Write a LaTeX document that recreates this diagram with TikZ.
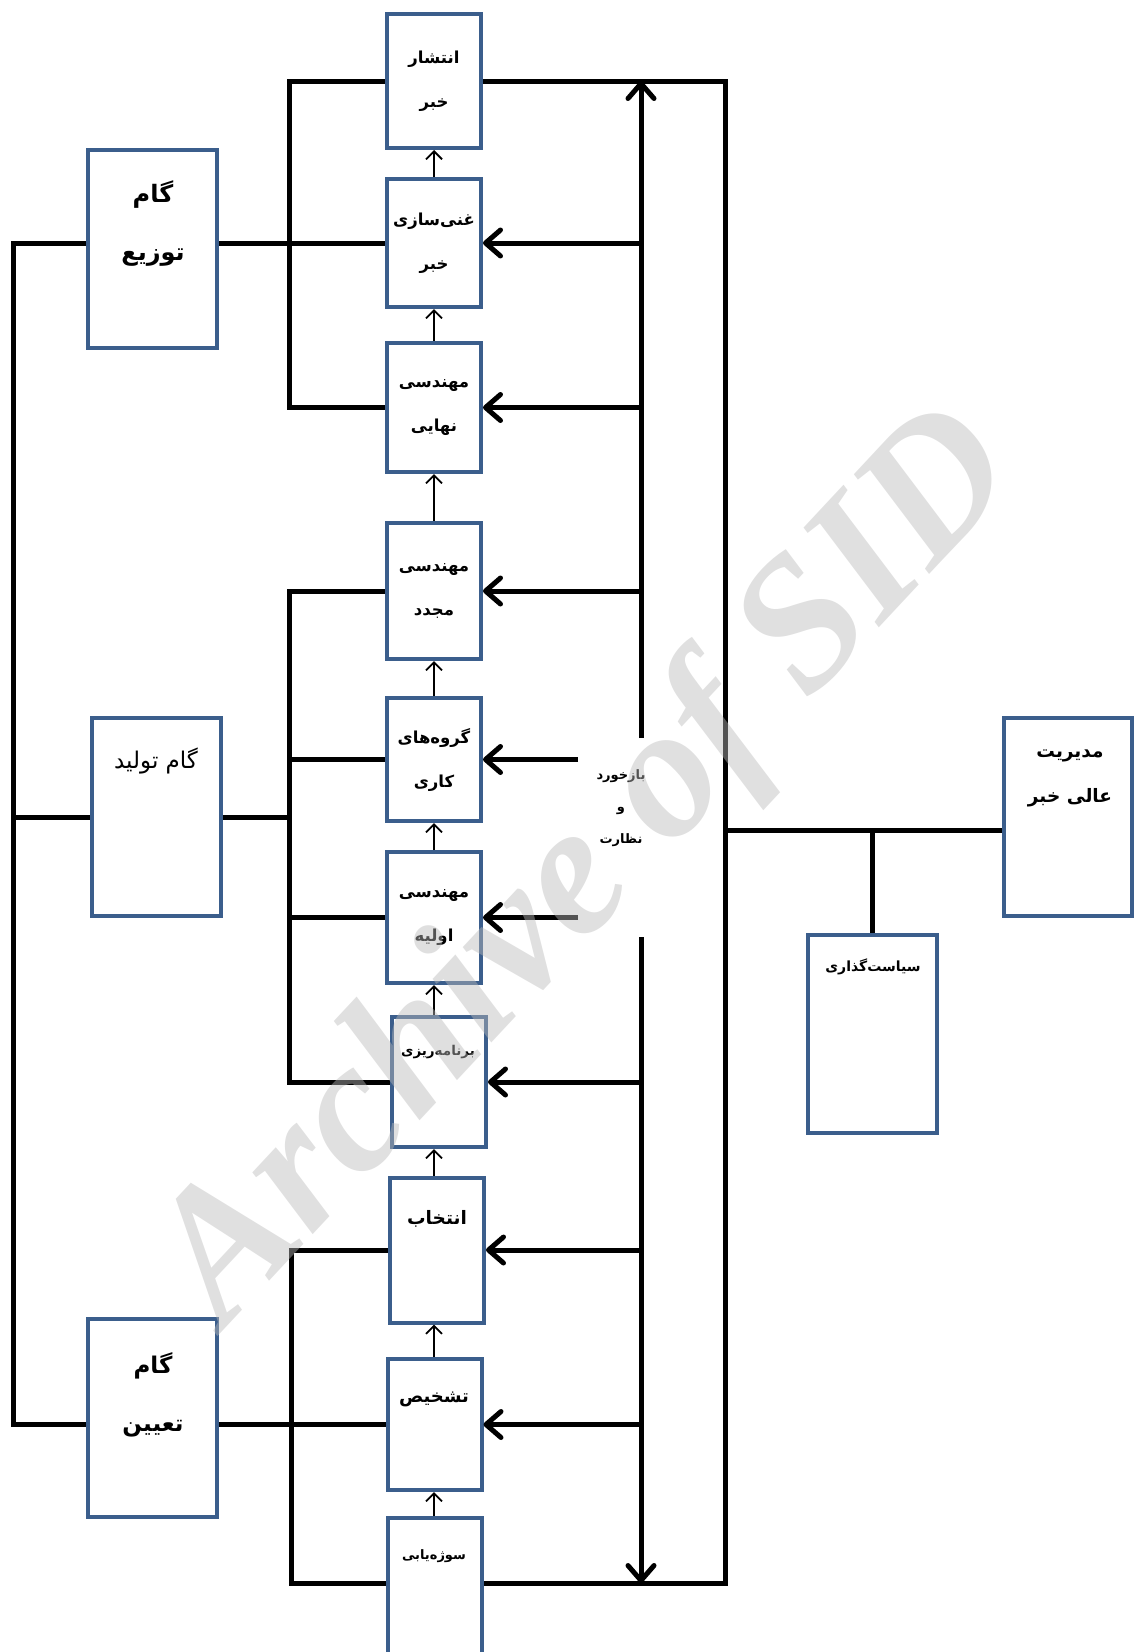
\documentclass[tikz,border=0pt]{standalone}
\usepackage{fontspec}
\usetikzlibrary{arrows.meta}
\TeXXeTstate=1
\newfontfamily\fa[Script=Arabic]{DejaVu Sans}
\newfontfamily\wmfont{Liberation Serif}
\definecolor{boxblue}{HTML}{3B5E8C}
\definecolor{wmgray}{gray}{0.73}
\newcommand{\rl}[1]{\beginR #1\endR}
\tikzset{
  box/.style={draw=boxblue, line width=4pt, fill=white, minimum width=94pt, inner sep=0pt, align=center, font=\fa\bfseries\fontsize{16.5}{44}\selectfont},
  stagebox/.style={box, minimum width=129pt, minimum height=198pt},
  lbl/.style={inner sep=0pt, align=center, font=\fa\bfseries\fontsize{13.5}{30}\selectfont},
  stagelbl/.style={lbl, font=\fa\bfseries\fontsize{24}{58}\selectfont},
  wire/.style={line width=5pt},
  fbarrow/.style={line width=5pt, -{Straight Barb[length=15pt,width=26pt,round]}},
  uparrow/.style={line width=1.8pt, -{Straight Barb[length=8pt,width=16pt]}},
}
\begin{document}
\begin{tikzpicture}[x=1pt, y=-1pt]
\useasboundingbox (0,0) rectangle (1134,1652);
% middle column
\node[box, minimum height=134pt] (b1) at (434,81) {\rl{انتشار}\\\rl{خبر}};
\node[box, minimum height=128pt] (b2) at (434,243) {\rl{غنی‌سازی}\\\rl{خبر}};
\node[box, minimum height=129pt] (b3) at (434,407.5) {\rl{مهندسی}\\\rl{نهایی}};
\node[box, minimum height=136pt] (b4) at (434,591) {\rl{مهندسی}\\\rl{مجدد}};
\node[box, minimum height=123pt] (b5) at (434,759.5) {\rl{گروه‌های}\\\rl{کاری}};
\node[box, minimum height=131pt] (b6) at (434,917.5) {\rl{مهندسی}\\\rl{اولیه}};
\node[box, minimum height=130pt] (b7) at (439,1082) {};
\node[box, minimum height=145pt] (b8) at (437,1250) {};
\node[box, minimum height=131pt] (b9) at (434.5,1424.5) {};
\node[box, minimum height=172pt] (b10) at (434.5,1604) {};
\node[lbl] (t7) at (438,1052) {\rl{برنامه‌ریزی}};
\node[lbl, font=\fa\bfseries\fontsize{18.5}{30}\selectfont] (t8) at (437,1219) {\rl{انتخاب}};
\node[lbl, font=\fa\bfseries\fontsize{18}{30}\selectfont] (t9) at (434,1399) {\rl{تشخیص}};
\node[lbl, font=\fa\bfseries\fontsize{13}{30}\selectfont] (t10) at (434,1556) {\rl{سوژه‌یابی}};
% stages
\node[stagebox] (dist) at (152.5,249) {};
\node[stagebox] (prod) at (156,817) {};
\node[stagebox] (det) at (152.5,1417.5) {};
\node[stagelbl] (tdist) at (153,224) {\rl{گام}\\\rl{توزیع}};
\node[lbl, font=\fa\fontsize{23}{30}\selectfont] (tprod) at (156,761) {\rl{گام تولید}};
\node[stagelbl, font=\fa\bfseries\fontsize{23}{58}\selectfont] (tdet) at (153,1395) {\rl{گام}\\\rl{تعیین}};
% management
\node[stagebox, minimum width=128pt] (mgmt) at (1068,817) {};
\node[stagebox] (policy) at (872.5,1034) {};
\node[lbl, font=\fa\bfseries\fontsize{18.5}{45}\selectfont] (tmgmt) at (1070,778.5) {\rl{مدیریت}\\\rl{عالی خبر}};
\node[lbl, font=\fa\bfseries\fontsize{14}{30}\selectfont] (tpolicy) at (873,967) {\rl{سیاست‌گذاری}};
\node[lbl, font=\fa\bfseries\fontsize{13}{32}\selectfont] (tfb) at (621,808) {\rl{بازخورد}\\\rl{و}\\\rl{نظارت}};
% helper coordinates
\coordinate (lbus) at (289,0);
\coordinate (far) at (13,0);
\coordinate (fb) at (641,0);
\coordinate (fbs) at (578,0);
\coordinate (gapt) at (641,738);
\coordinate (gapb) at (641,937);
\coordinate (lb) at (291,1583);
\coordinate (rb) at (725,1583);
\coordinate (mline) at (0,830);
% left brackets
\draw[wire] (b1.west) -| (b3.west -| lbus) -- (b3.west);
\draw[wire] (b2.west -| dist.east) -- (b2.west);
\draw[wire] (b4.west) -| (b7.west -| lbus) -- (b7.west);
\draw[wire] (b5.west) -- (b5.west -| lbus);
\draw[wire] (b6.west) -- (b6.west -| lbus);
\draw[wire] (prod.east) -- (prod.east -| lbus);
\draw[wire] (b8.west) -| (lb) -- (lb -| b10.west);
\draw[wire] (b9.west -| det.east) -- (b9.west);
\draw[wire] (dist.west |- b2.west) -| (far |- b9.west) -- (det.west |- b9.west);
\draw[wire] (prod.west) -- (prod.west -| far);
% right loop
\draw[wire] (b1.east) -| (rb) -- (rb -| b10.east);
\draw[wire] (rb |- mline) -- (mgmt.west |- mline);
\draw[wire] (policy.north) -- (policy.north |- mline);
% feedback
\draw[fbarrow] (gapt) -- (gapt |- b1.east);
\draw[fbarrow] (gapb) -- (gapb |- lb);
\draw[fbarrow] (b2.east -| fb) -- (b2.east);
\draw[fbarrow] (b3.east -| fb) -- (b3.east);
\draw[fbarrow] (b4.east -| fb) -- (b4.east);
\draw[fbarrow] (b5.east -| fbs) -- (b5.east);
\draw[fbarrow] (b6.east -| fbs) -- (b6.east);
\draw[fbarrow] (b7.east -| fb) -- (b7.east);
\draw[fbarrow] (b8.east -| fb) -- (b8.east);
\draw[fbarrow] (b9.east -| fb) -- (b9.east);
% steps upward
\draw[uparrow] (b2.north) -- (b1.south);
\draw[uparrow] (b3.north) -- (b2.south);
\draw[uparrow] (b4.north) -- (b3.south);
\draw[uparrow] (b5.north) -- (b4.south);
\draw[uparrow] (b6.north) -- (b5.south);
\draw[uparrow] (b7.north -| b6.south) -- (b6.south);
\draw[uparrow] (b8.north -| b6.south) -- (b7.south -| b6.south);
\draw[uparrow] (b9.north -| b6.south) -- (b8.south -| b6.south);
\draw[uparrow] (b10.north -| b6.south) -- (b9.south -| b6.south);
% watermark
\node[text=wmgray, text opacity=0.45, rotate=47, inner sep=0pt, font=\wmfont\bfseries\itshape\fontsize{188}{200}\selectfont] (wmark) at (590,870) {Archive of SID};
\end{tikzpicture}
\end{document}
